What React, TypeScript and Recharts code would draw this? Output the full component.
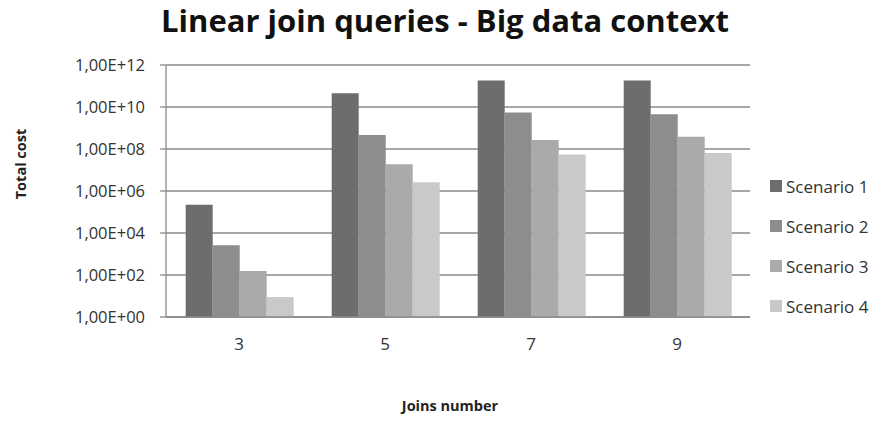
import { BarChart, Bar, XAxis, YAxis, CartesianGrid } from 'recharts';

const joins = ['3', '5', '7', '9'];
const scenario1 = [2.2e5, 4.5e10, 1.85e11, 1.85e11];
const scenario2 = [2.6e3, 4.6e8, 5.4e9, 4.5e9];
const scenario3 = [156, 1.9e7, 2.7e8, 3.8e8];
const scenario4 = [8.9, 2.6e6, 5.4e7, 6.5e7];
const yTicks = [1, 1e2, 1e4, 1e6, 1e8, 1e10, 1e12];

const series = [
  { key: 's1', name: 'Scenario 1', color: '#6d6d6d', values: scenario1 },
  { key: 's2', name: 'Scenario 2', color: '#8d8d8d', values: scenario2 },
  { key: 's3', name: 'Scenario 3', color: '#aaaaaa', values: scenario3 },
  { key: 's4', name: 'Scenario 4', color: '#c9c9c9', values: scenario4 },
];

const data = joins.map((j, i) => {
  const row: Record<string, string | number> = { joins: j };
  series.forEach(s => { row[s.key] = s.values[i]; });
  return row;
});

const font = '"Open Sans", sans-serif';

const fmt = (v: number) => {
  const e = Math.round(Math.log10(v));
  return `1,00E+${String(e).padStart(2, '0')}`;
};

export default function App() {
  return (
    <div style={{ position: 'absolute', left: 0, top: 0, width: 877, height: 421, background: '#fff', fontFamily: font }}>
      <div style={{ position: 'absolute', left: 157, top: 2, width: 576, height: 40, textAlign: 'center', fontSize: 31, fontWeight: 700, color: '#111', whiteSpace: 'nowrap', lineHeight: '36px' }}>
        Linear join queries - Big data context
      </div>
      <div style={{ position: 'absolute', left: 20, top: 164, transform: 'translate(-50%, -50%) rotate(-90deg)', fontSize: 14.5, fontWeight: 700, color: '#222', whiteSpace: 'nowrap' }}>
        Total cost
      </div>
      <div style={{ position: 'absolute', left: 350, top: 396, width: 200, textAlign: 'center', fontSize: 14.5, fontWeight: 700, color: '#222' }}>
        Joins number
      </div>
      <BarChart width={877} height={421} data={data} margin={{ top: 65, right: 127, left: 66, bottom: 64 }} barCategoryGap="13.5%" barGap={0}>
        <CartesianGrid vertical={false} stroke="#8a8a8a" strokeWidth={1.3} />
        <XAxis dataKey="joins" height={40} axisLine={{ stroke: '#8a8a8a', strokeWidth: 1.3 }} tickLine={false} tickMargin={15}
          tick={{ fill: '#333', fontSize: 17, fontFamily: font }} />
        <YAxis scale="log" domain={[1, 1e12]} ticks={yTicks} allowDataOverflow width={100} tickFormatter={fmt}
          axisLine={{ stroke: '#8a8a8a', strokeWidth: 1.3 }} tickLine={{ stroke: '#8a8a8a', strokeWidth: 1.3 }} tickSize={6} tickMargin={15}
          tick={{ fill: '#333', fontSize: 16.5, fontFamily: font }} />
        {series.map(s => (
          <Bar key={s.key} dataKey={s.key} name={s.name} fill={s.color} isAnimationActive={false} />
        ))}
      </BarChart>
      {series.map((s, i) => (
        <div key={s.key} style={{ position: 'absolute', left: 770, top: 176 + i * 40, height: 20, display: 'flex', alignItems: 'center', fontSize: 17, color: '#333', whiteSpace: 'nowrap' }}>
          <span style={{ display: 'inline-block', width: 12, height: 12, background: s.color, marginRight: 4 }} />
          {s.name}
        </div>
      ))}
    </div>
  );
}
